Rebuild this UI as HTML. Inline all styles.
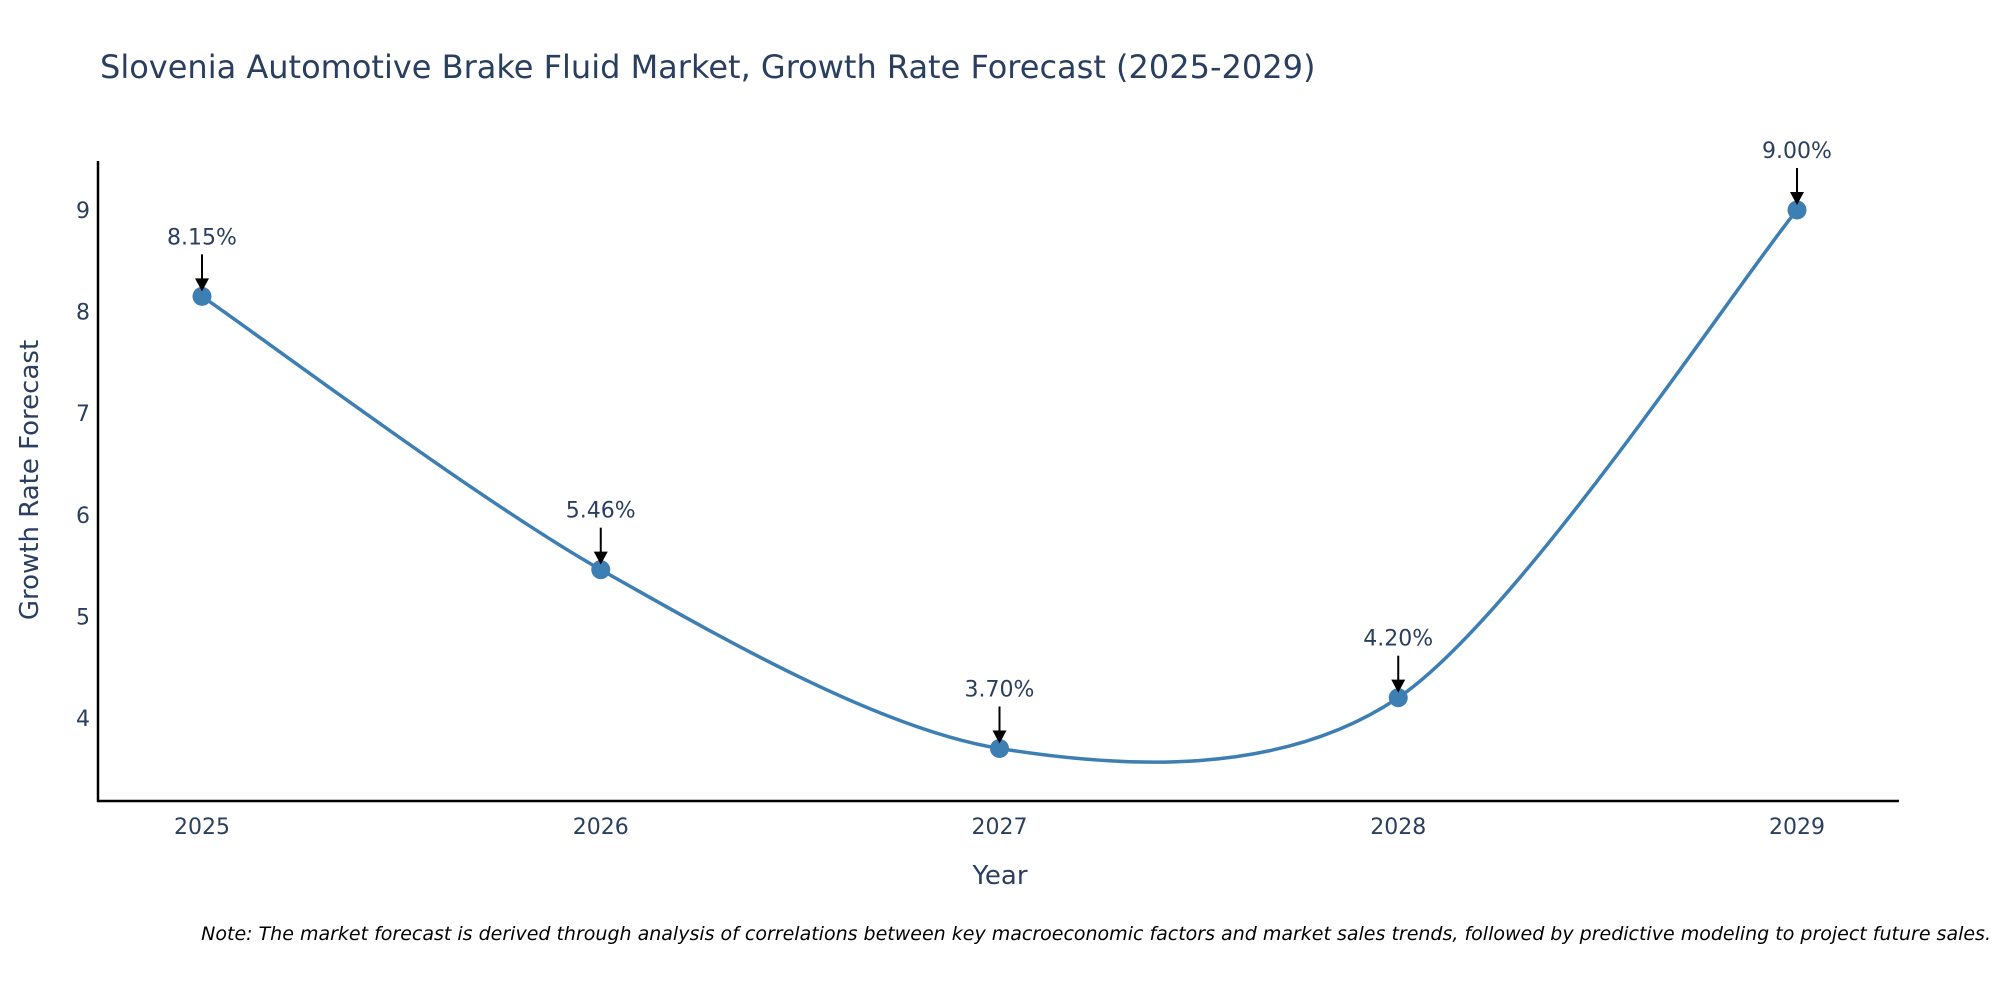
<!DOCTYPE html>
<html><head><meta charset="utf-8"><style>
body{margin:0;background:#fff;width:2000px;height:1000px;overflow:hidden;font-family:"DejaVu Sans","Liberation Sans",sans-serif}
svg text{font-family:"DejaVu Sans","Liberation Sans",sans-serif}
</style></head><body>
<svg id="chart" width="2000" height="1000" xmlns="http://www.w3.org/2000/svg">
<text x="100" y="78" font-size="32" fill="#2a3f5f">Slovenia Automotive Brake Fluid Market, Growth Rate Forecast (2025-2029)</text>
<g id="axes"></g>
<g id="series"></g>
<text x="1000" y="884" font-size="26" fill="#2a3f5f" text-anchor="middle">Year</text>
<text transform="translate(38,480) rotate(-90)" font-size="26" fill="#2a3f5f" text-anchor="middle">Growth Rate Forecast</text>
<text x="1991" y="940" font-size="19" font-style="italic" fill="#000" text-anchor="end">Note: The market forecast is derived through analysis of correlations between key macroeconomic factors and market sales trends, followed by predictive modeling to project future sales.</text>
</svg>
<script>
const years = [2025, 2026, 2027, 2028, 2029];
const rates = [8.15, 5.46, 3.70, 4.20, 9.00];
const labels = ["8.15%", "5.46%", "3.70%", "4.20%", "9.00%"];
const yTicks = [4, 5, 6, 7, 8, 9];

const NS = "http://www.w3.org/2000/svg";
const x = v => 202 + (v - 2025) * 398.75;
const y = v => 718 - (v - 4) * 101.6;
function mk(tag, attrs, parent, text){
  const e = document.createElementNS(NS, tag);
  for (const k in attrs) e.setAttribute(k, attrs[k]);
  if (text !== undefined) e.textContent = text;
  parent.appendChild(e); return e;
}
const axes = document.getElementById('axes');
const ser = document.getElementById('series');
const ya = mk('line', {x1:98, y1:161, x2:98, y2:802, stroke:'#000', 'stroke-width':2.5}, axes);


const xa = mk('line', {x1:97, y1:801, x2:1899, y2:801, stroke:'#000', 'stroke-width':2.5}, axes);


yTicks.forEach(t => {
  const el = mk('text', {x:90, y:y(t)+8, 'font-size':22, fill:'#2a3f5f', 'text-anchor':'end'}, axes, String(t));
  
  
});
years.forEach(t => {
  const el = mk('text', {x:x(t), y:834, 'font-size':22, fill:'#2a3f5f', 'text-anchor':'middle'}, axes, String(t));
  
  
});
const pts = years.map((yr, i) => [x(yr), y(rates[i])]);
let d = `M${pts[0][0]},${pts[0][1]}`;
const s = 0.15;
for (let i = 0; i < pts.length - 1; i++) {
  const p0 = pts[Math.max(0, i-1)], p1 = pts[i], p2 = pts[i+1], p3 = pts[Math.min(pts.length-1, i+2)];
  const c1 = [p1[0] + (p2[0]-p0[0])*s, p1[1] + (p2[1]-p0[1])*s];
  const c2 = [p2[0] - (p3[0]-p1[0])*s, p2[1] - (p3[1]-p1[1])*s];
  d += ` C${c1[0]},${c1[1]} ${c2[0]},${c2[1]} ${p2[0]},${p2[1]}`;
}
const line = mk('path', {d:d, fill:'none', stroke:'#3d7eb3', 'stroke-width':3.5}, ser);


pts.forEach((p, i) => {
  const c = mk('circle', {cx:p[0], cy:p[1], r:9.5, fill:'#3d7eb3'}, ser);
  
  
  const a = mk('line', {x1:p[0], y1:p[1]-42, x2:p[0], y2:p[1]-16, stroke:'#000', 'stroke-width':2}, ser);
  
  
  const h = mk('polygon', {points:`${p[0]-7},${p[1]-18} ${p[0]+7},${p[1]-18} ${p[0]},${p[1]-5}`, fill:'#000'}, ser);
  
  
  const t = mk('text', {x:p[0], y:p[1]-52, 'font-size':22, fill:'#2a3f5f', 'text-anchor':'middle'}, ser, labels[i]);
  
  
});
</script>
</body></html>
